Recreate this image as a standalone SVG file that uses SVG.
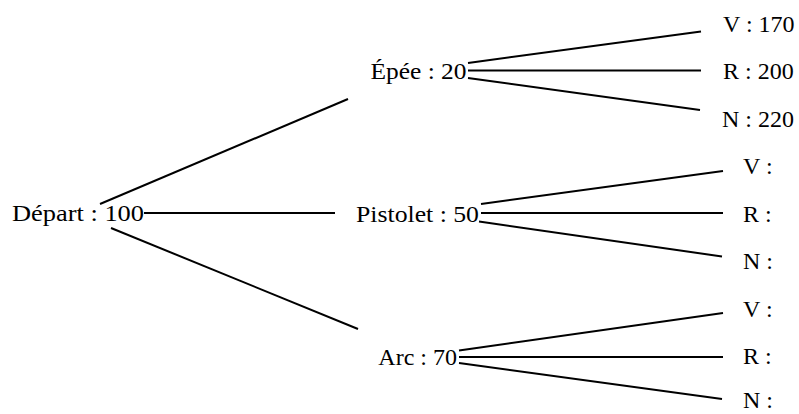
<svg xmlns="http://www.w3.org/2000/svg" width="799" height="414" viewBox="0 0 799 414">
<style>
text{font-family:"Liberation Serif","Times New Roman",serif;font-size:24px;fill:#000}
.e{text-anchor:end}
#connectors line{stroke:#000;stroke-width:2;stroke-linecap:butt}
</style>
<rect width="799" height="414" fill="#fff"/>
<g id="connectors">
<line x1="100" y1="204" x2="348" y2="99"/>
<line x1="144" y1="213" x2="335" y2="213"/>
<line x1="111" y1="228" x2="358" y2="329"/>
<line x1="468" y1="63" x2="701" y2="31.5"/>
<line x1="468" y1="70.5" x2="701" y2="70.5"/>
<line x1="468" y1="78" x2="700" y2="110"/>
<line x1="481" y1="204" x2="723" y2="171"/>
<line x1="481" y1="213" x2="723" y2="213"/>
<line x1="479" y1="221.5" x2="722" y2="256.5"/>
<line x1="459" y1="350.5" x2="723" y2="313"/>
<line x1="459" y1="357" x2="723" y2="357"/>
<line x1="459" y1="363" x2="722" y2="399"/>
</g>
<g id="depart"><text class="e" x="144" y="221" textLength="132" lengthAdjust="spacingAndGlyphs">Départ : 100</text></g>
<g id="epee"><text class="e" x="466.5" y="79" textLength="96" lengthAdjust="spacingAndGlyphs">Épée : 20</text></g>
<g id="pistolet"><text class="e" x="479" y="222" textLength="123" lengthAdjust="spacingAndGlyphs">Pistolet : 50</text></g>
<g id="arc"><text class="e" x="457" y="365">Arc : 70</text></g>
<g id="epee-v"><text x="723" y="32">V : 170</text></g>
<g id="epee-r"><text x="723" y="79">R : 200</text></g>
<g id="epee-n"><text x="722" y="127">N : 220</text></g>
<g id="pistolet-v"><text x="743" y="174">V :</text></g>
<g id="pistolet-r"><text x="743" y="222">R :</text></g>
<g id="pistolet-n"><text x="743" y="269">N :</text></g>
<g id="arc-v"><text x="743" y="317">V :</text></g>
<g id="arc-r"><text x="743" y="364">R :</text></g>
<g id="arc-n"><text x="743" y="408">N :</text></g>
</svg>
